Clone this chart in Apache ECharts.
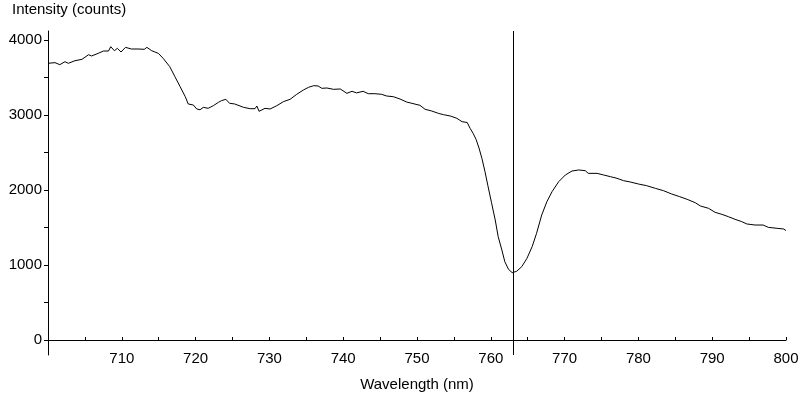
<!DOCTYPE html>
<html>
<head>
<meta charset="utf-8">
<script src="https://cdn.jsdelivr.net/npm/echarts@6/dist/echarts.min.js"></script>
<style>
  html, body { margin: 0; padding: 0; background: #fff; }
  #chart { width: 800px; height: 398px; }
</style>
</head>
<body>
<div id="chart"></div>
<script>
const wavelength = [
  700, 700.95, 701.6, 702.3, 702.75, 703.66, 704.6, 705.5, 705.9, 706.8,
  707.5, 708.2, 708.5, 709, 709.4, 709.9, 710.5, 711.3, 712.2, 713.05,
  713.4, 714.05, 714.95, 715.6, 716.5, 717.2, 717.9, 718.6, 719.0, 719.7,
  720.15, 720.6, 721.05, 721.7, 722.4, 723.1, 723.5, 724.1, 724.6, 725.3,
  726.5, 727.4, 728.05, 728.3, 728.6, 729.4, 730.1, 731.0, 731.9, 732.8,
  733.7, 734.6, 735.3, 736.0, 736.6, 737.1, 737.8, 738.7, 739.6, 740.5,
  741.2, 741.8, 742.7, 743.4, 744.3, 745.2, 745.9, 746.8, 747.7, 748.6,
  749.3, 750.4, 751.1, 752.0, 752.9, 753.6, 754.5, 755.4, 756.1, 756.8,
  757.2, 757.6, 758.0, 758.4, 758.8, 759.2, 759.6, 760.1, 760.6, 761.0,
  761.5, 761.9, 762.4, 762.9, 763.5, 764.2, 764.9, 765.6, 766.2, 766.9,
  767.6, 768.3, 769.2, 770.1, 771.0, 771.9, 772.8, 773.2, 774.4, 775.3,
  776.2, 777.1, 778.0, 778.9, 780.0, 781.1, 782.3, 783.4, 784.5, 785.6,
  786.6, 787.7, 788.4, 789.5, 790.4, 791.3, 792.2, 793.1, 794.0, 794.7,
  795.8, 796.9, 797.6, 798.8, 799.7, 800
];
const intensity = [
  3689, 3698, 3671, 3711, 3689, 3724, 3742, 3804, 3787, 3822,
  3853, 3853, 3911, 3857, 3889, 3840, 3902, 3880, 3880, 3876,
  3902, 3857, 3822, 3756, 3644, 3511, 3378, 3244, 3147, 3133,
  3080, 3070, 3102, 3089, 3124, 3169, 3191, 3209, 3156, 3147,
  3102, 3084, 3084, 3120, 3049, 3089, 3080, 3124, 3178, 3209,
  3276, 3333, 3369, 3391, 3387, 3356, 3360, 3342, 3347, 3289,
  3316, 3295, 3316, 3284, 3284, 3276, 3253, 3244, 3213, 3173,
  3156, 3129, 3076, 3053, 3022, 3004, 2987, 2956, 2911, 2900,
  2822, 2756, 2676, 2560, 2420, 2250, 2060, 1830, 1600, 1378,
  1200, 1044, 942, 898, 916, 978, 1089, 1244, 1422, 1667,
  1844, 1978, 2111, 2200, 2253, 2267, 2258, 2222, 2222, 2200,
  2178, 2156, 2124, 2107, 2080, 2058, 2022, 1991, 1947, 1911,
  1876, 1831, 1787, 1756, 1702, 1676, 1644, 1609, 1578, 1547,
  1533, 1533, 1502, 1489, 1480, 1458
];
const xLabelValues = [710, 720, 730, 740, 750, 760, 770, 780, 790, 800];
const xTickValues = [705, 710, 715, 720, 725, 730, 735, 740, 745, 750, 755, 760, 765, 770, 775, 780, 785, 790, 795, 800];
const yLabelValues = [0, 1000, 2000, 3000, 4000];
const yTickValues = [0, 500, 1000, 1500, 2000, 2500, 3000, 3500, 4000];
const markerWavelength = 763;

const font = 'Arial, "Liberation Sans", sans-serif';
const chart = echarts.init(document.getElementById('chart'), null, { renderer: 'canvas' });

chart.setOption({
  backgroundColor: '#ffffff',
  animation: false,
  title: {
    text: 'Intensity (counts)',
    left: 12,
    top: 2,
    padding: 0,
    textStyle: { fontFamily: font, fontSize: 15, fontWeight: 'normal', color: '#000' }
  },
  grid: { left: 48, right: 14, top: 31, bottom: 43, containLabel: false, outerBoundsMode: 'none' },
  xAxis: {
    type: 'value',
    min: 700,
    max: 800,
    name: 'Wavelength (nm)',
    nameLocation: 'middle',
    nameGap: 22,
    nameTextStyle: { fontFamily: font, fontSize: 15, color: '#000' },
    axisLine: { onZero: true, lineStyle: { color: '#000', width: 1 } },
    axisTick: { show: true, inside: true, length: 3, customValues: xTickValues, lineStyle: { color: '#000' } },
    axisLabel: { customValues: xLabelValues, margin: -4, fontFamily: font, fontSize: 15, color: '#000' },
    splitLine: { show: false }
  },
  yAxis: {
    type: 'value',
    min: -200,
    max: 4120,
    axisLine: { show: true, onZero: false, lineStyle: { color: '#000', width: 1 } },
    axisTick: { show: true, length: 4, customValues: yTickValues, lineStyle: { color: '#000' } },
    axisLabel: {
      customValues: yLabelValues,
      formatter: v => String(v),
      margin: 6,
      fontFamily: font,
      fontSize: 15,
      color: '#000'
    },
    splitLine: { show: false }
  },
  series: [{
    type: 'line',
    data: wavelength.map((w, i) => [w, intensity[i]]),
    showSymbol: false,
    symbol: 'none',
    lineStyle: { color: '#000', width: 1 },
    silent: true,
    markLine: {
      silent: true,
      symbol: 'none',
      label: { show: false },
      lineStyle: { color: '#000', width: 1, type: 'solid' },
      data: [{ xAxis: markerWavelength }]
    }
  }]
});
</script>
</body>
</html>
